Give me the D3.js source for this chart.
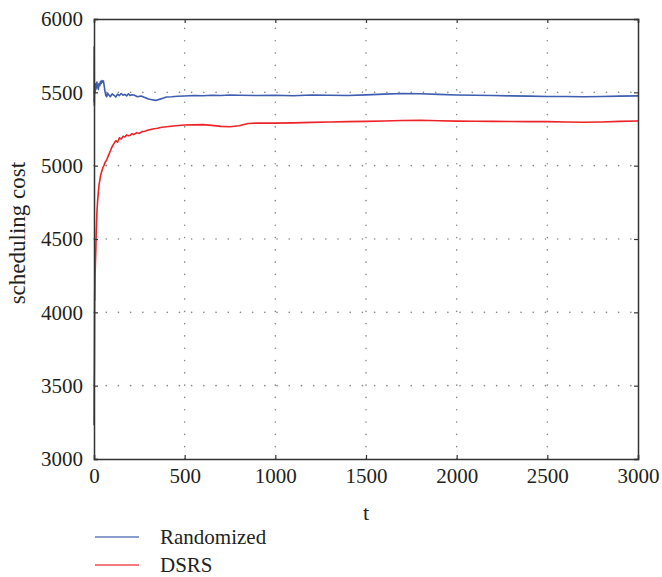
<!DOCTYPE html>
<html>
<head>
<meta charset="utf-8">
<script src="https://cdn.jsdelivr.net/npm/d3@7"></script>
<style>
  body { margin: 0; background: #fff; }
  svg text { font-family: "Liberation Serif", "DejaVu Serif", serif; fill: #231f20; }
</style>
</head>
<body>
<div class="chart"></div>
<script>
// Datos
var xTicks = [0, 500, 1000, 1500, 2000, 2500, 3000];
var yTicks = [3000, 3500, 4000, 4500, 5000, 5500, 6000];
var seriesNames = ["Randomized", "DSRS"];
var seriesColors = ["#3e5db0", "#ec2327"];

var tRandom = [0, 1, 2, 4, 6, 8, 10, 12, 14, 16, 18, 20, 24, 28, 32, 36, 40, 44, 48, 52, 56, 60, 65, 70, 75, 80, 90, 100,
  110, 120, 130, 140, 150, 160, 170, 180, 190, 200, 210, 220, 240, 260, 280, 300, 320, 340, 360, 380, 400, 430, 460,
  500, 550, 600, 650, 700, 750, 800, 900, 1000, 1100, 1200, 1300, 1400, 1500, 1600, 1700, 1800, 1900, 2000, 2100,
  2200, 2300, 2400, 2500, 2600, 2700, 2800, 2900, 3000];
var randomized = [5430, 5810, 5410, 5560, 5500, 5540, 5520, 5560, 5530, 5570, 5540, 5555, 5520, 5560, 5545, 5575, 5560,
  5580, 5570, 5578, 5545, 5510, 5480, 5470, 5495, 5485, 5470, 5490, 5480, 5468, 5488, 5478, 5492, 5480, 5486, 5476,
  5490, 5478, 5484, 5482, 5470, 5475, 5465, 5455, 5450, 5445, 5452, 5460, 5468, 5470, 5473, 5475, 5478, 5477, 5480,
  5478, 5482, 5480, 5478, 5480, 5477, 5482, 5480, 5478, 5483, 5488, 5492, 5490, 5486, 5482, 5480, 5478, 5476, 5474,
  5472, 5472, 5470, 5472, 5474, 5476];

var tDsrs = [0, 1, 2, 3, 4, 5, 6, 8, 10, 12, 14, 16, 18, 20, 24, 28, 32, 36, 40, 45, 50, 55, 60, 70, 80, 90, 100,
  110, 120, 130, 140, 150, 160, 170, 180, 190, 200, 210, 220, 235, 250, 265, 280, 300, 325, 350, 375, 400, 450, 500,
  550, 600, 650, 700, 750, 800, 850, 900, 1000, 1100, 1200, 1300, 1400, 1500, 1600, 1700, 1800, 1900, 2000, 2100,
  2200, 2300, 2400, 2500, 2600, 2700, 2800, 2900, 3000];
var dsrs = [3230, 3500, 3620, 3900, 4150, 4080, 4250, 4350, 4420, 4530, 4600, 4680, 4720, 4760, 4820, 4870, 4900,
  4930, 4950, 4970, 4990, 5000, 5020, 5040, 5070, 5100, 5130, 5150, 5170, 5160, 5190, 5182, 5200, 5196, 5210, 5204,
  5208, 5218, 5212, 5225, 5220, 5232, 5235, 5243, 5250, 5255, 5262, 5265, 5272, 5277, 5278, 5280, 5275, 5268, 5265,
  5272, 5288, 5290, 5290, 5292, 5295, 5298, 5300, 5302, 5305, 5308, 5310, 5306, 5304, 5303, 5302, 5301, 5300, 5300,
  5298, 5296, 5298, 5302, 5305];

var width = 662, height = 577;
var margin = { left: 94, right: 24, top: 19, bottom: 118 };

var svg = d3.select(".chart").append("svg")
  .attr("width", width)
  .attr("height", height);

var x = d3.scaleLinear().domain([0, 3000]).range([margin.left, width - margin.right]);
var y = d3.scaleLinear().domain([3000, 6000]).range([height - margin.bottom, margin.top]);

// Rejilla punteada
svg.append("g").selectAll("line.gx")
  .data(xTicks.slice(1, -1))
  .enter().append("line")
  .attr("x1", function(d) { return x(d); })
  .attr("x2", function(d) { return x(d); })
  .attr("y1", y(3000))
  .attr("y2", y(6000))
  .attr("stroke", "#8a8a8a")
  .attr("stroke-width", 1.6)
  .attr("stroke-linecap", "round")
  .attr("stroke-dasharray", "0.1,12.2");

svg.append("g").selectAll("line.gy")
  .data(yTicks.slice(1, -1))
  .enter().append("line")
  .attr("x1", x(0))
  .attr("x2", x(3000))
  .attr("y1", function(d) { return y(d); })
  .attr("y2", function(d) { return y(d); })
  .attr("stroke", "#8a8a8a")
  .attr("stroke-width", 1.6)
  .attr("stroke-linecap", "round")
  .attr("stroke-dasharray", "0.1,12.1");

// Lineas de datos
var line = d3.line()
  .x(function(d) { return x(d[0]); })
  .y(function(d) { return y(d[1]); });

var datos = [
  d3.zip(tRandom, randomized),
  d3.zip(tDsrs, dsrs)
];

svg.append("g").selectAll("path.serie")
  .data(datos)
  .enter().append("path")
  .attr("class", "serie")
  .attr("d", line)
  .attr("fill", "none")
  .attr("stroke", function(d, i) { return seriesColors[i]; })
  .attr("stroke-width", 1.6)
  .attr("stroke-linejoin", "round");

// Ejes con ticks hacia dentro
svg.append("g")
  .attr("transform", "translate(0," + y(3000) + ")")
  .call(d3.axisBottom(x).tickValues(xTicks).tickSize(-4).tickPadding(9).tickFormat(d3.format("d")));
svg.append("g")
  .attr("transform", "translate(" + x(0) + ",0)")
  .call(d3.axisLeft(y).tickValues(yTicks).tickSize(-4).tickPadding(11).tickFormat(d3.format("d")));
svg.append("g")
  .attr("transform", "translate(0," + y(6000) + ")")
  .call(d3.axisTop(x).tickValues(xTicks).tickSize(-4).tickFormat(""));
svg.append("g")
  .attr("transform", "translate(" + x(3000) + ",0)")
  .call(d3.axisRight(y).tickValues(yTicks).tickSize(-4).tickFormat(""));

svg.selectAll(".domain").attr("stroke", "#333").attr("stroke-width", 1.5);
svg.selectAll(".tick line").attr("stroke", "#333").attr("stroke-width", 1.2);
svg.selectAll(".tick text")
  .style("font-size", "21px")
  .style("font-family", "'Liberation Serif', serif")
  .attr("fill", "#231f20");

// Titulos de ejes
svg.append("text")
  .attr("x", x(1500))
  .attr("y", 520)
  .attr("text-anchor", "middle")
  .style("font-size", "22px")
  .text("t");

svg.append("text")
  .attr("transform", "translate(25," + y(4540) + ") rotate(-90)")
  .attr("text-anchor", "middle")
  .style("font-size", "23px")
  .text("scheduling cost");

// Leyenda
var leyenda = svg.append("g").selectAll("g")
  .data(seriesNames)
  .enter().append("g")
  .attr("transform", function(d, i) { return "translate(95," + (537 + i * 28) + ")"; });

leyenda.append("line")
  .attr("x1", 0)
  .attr("x2", 44)
  .attr("stroke", function(d, i) { return seriesColors[i]; })
  .attr("stroke-opacity", 0.8)
  .attr("stroke-width", 1.3);

leyenda.append("text")
  .attr("x", 65)
  .attr("y", 7)
  .style("font-size", "21px")
  .text(function(d) { return d; });
</script>
</body>
</html>
